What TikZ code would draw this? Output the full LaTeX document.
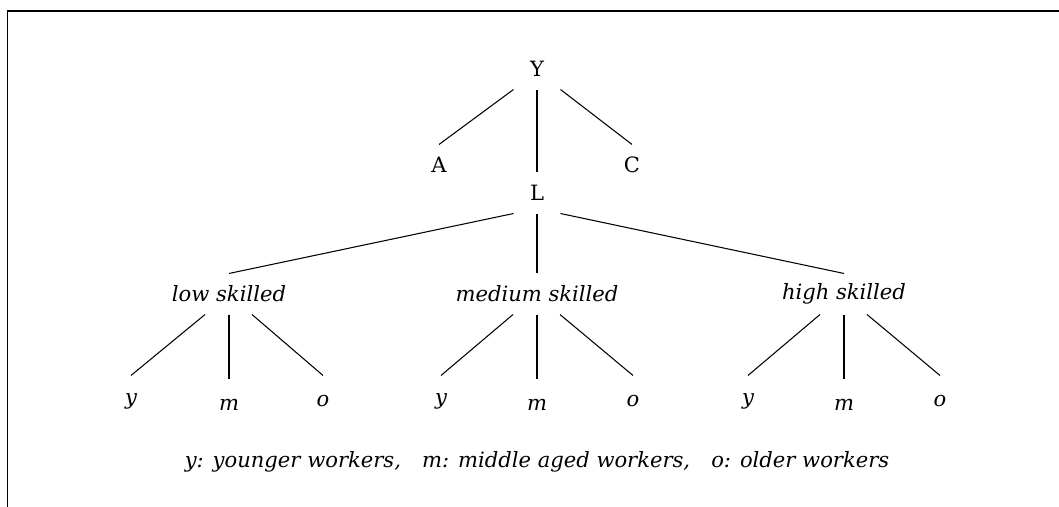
\documentclass[tikz,border=0pt]{standalone}
\usepackage{fontspec}
\setmainfont{DejaVu Serif}
\usetikzlibrary{positioning}

\begin{document}
\begin{tikzpicture}[on grid, line width=0.6pt, every node/.style={text centered, inner sep=0pt, minimum height=0.8cm, minimum width=0.92cm, font=\fontsize{12}{15}\selectfont},
    skill/.style={font=\fontsize{12}{15}\selectfont\itshape},
    leaf/.style={minimum height=1cm, font=\fontsize{12}{15}\selectfont\itshape}]
        \useasboundingbox (0,0) rectangle (21.18,-10.14);
        % frame %
        \draw (0.15,-10.14) -- (0.15,-0.22) -- (21.18,-0.22);

        % nodes %
        \node (y) at (10.74,-1.38) {Y};
        \node[below left=1.92 and 1.96 of y] (a) {A};
        \node[below right=1.92 and 1.90 of y] (c) {C};
        \node[below=2.48 of y] (l) {L};
        \node[skill, below=2.02 of l] (med) {medium skilled};
        \node[skill, left=6.16 of med] (low) {low skilled};
        \node[skill, right=6.14 of med] (high) {high skilled};

        \node[leaf, below left=2.14 and 1.96 of low] (low-y) {y};
        \node[leaf, below=2.22 of low] (low-m) {m};
        \node[leaf, below right=2.14 and 1.88 of low] (low-o) {o};
        \node[leaf, below left=2.14 and 1.92 of med] (med-y) {y};
        \node[leaf, below=2.22 of med] (med-m) {m};
        \node[leaf, below right=2.14 and 1.92 of med] (med-o) {o};
        \node[leaf, below left=2.14 and 1.92 of high] (high-y) {y};
        \node[leaf, below=2.22 of high] (high-m) {m};
        \node[leaf, below right=2.14 and 1.92 of high] (high-o) {o};

        \node[skill, below=1.14 of med-m] (key) {y: younger workers,\quad m: middle aged workers,\quad o: older workers};

        % edges %
        \draw (y.south west) -- (a.north);
        \draw (y.south) -- (l.north);
        \draw (y.south east) -- (c.north);
        \draw (l.south west) -- (low.north);
        \draw (l.south) -- (med.north);
        \draw (l.south east) -- (high.north);
        \draw ([xshift=-0.48cm]low.south) -- (low-y.north);
        \draw (low.south) -- (low-m.north);
        \draw ([xshift=0.46cm]low.south) -- (low-o.north);
        \draw ([xshift=-0.48cm]med.south) -- (med-y.north);
        \draw (med.south) -- (med-m.north);
        \draw ([xshift=0.46cm]med.south) -- (med-o.north);
        \draw ([xshift=-0.48cm]high.south) -- (high-y.north);
        \draw (high.south) -- (high-m.north);
        \draw ([xshift=0.46cm]high.south) -- (high-o.north);
\end{tikzpicture}
\end{document}
